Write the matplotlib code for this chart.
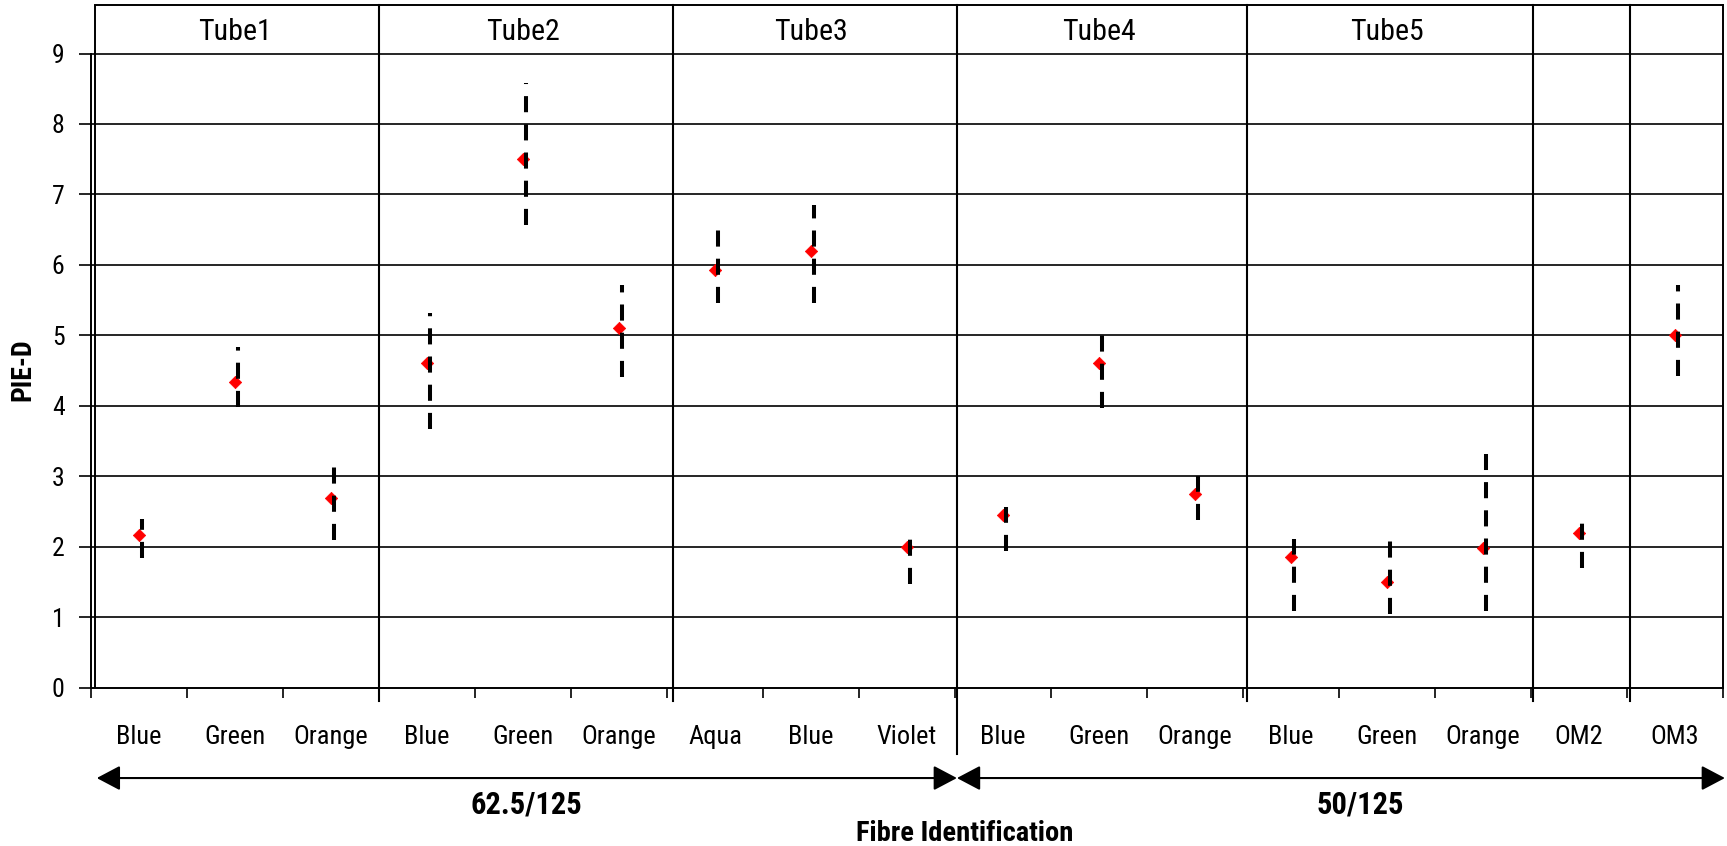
import matplotlib
matplotlib.use("Agg")
import matplotlib.pyplot as plt
import matplotlib.transforms as mtransforms
from matplotlib import font_manager as fm
from matplotlib.ticker import FixedLocator, NullFormatter, FixedFormatter

# ---- pick a condensed sans font if one is installed ----
def pick_font():
    ttf = fm.fontManager.ttflist
    avail = {f.name for f in ttf}
    for p in ['Liberation Sans Narrow', 'Arial Narrow', 'Roboto Condensed',
              'Open Sans Condensed', 'Noto Sans Condensed', 'DejaVu Sans Condensed',
              'Noto Sans Display Condensed']:
        if p in avail:
            return p, 'normal', True
    for fam in ['DejaVu Sans', 'Noto Sans', 'Open Sans', 'Roboto', 'Liberation Sans']:
        for f in ttf:
            if f.name == fam and str(f.stretch) in ('condensed', 'semi-condensed', '500', '600', 'extra-condensed'):
                return fam, 'condensed', True
    return 'Roboto', 'normal', False

FONT, STRETCH, NARROW = pick_font()
plt.rcParams['font.family'] = [FONT, 'DejaVu Sans']
plt.rcParams['font.stretch'] = STRETCH
k = 1.0 if NARROW else 0.86  # size factor if only a normal-width font exists

# ---- data ----
categories = ['Blue', 'Green', 'Orange', 'Blue', 'Green', 'Orange', 'Aqua', 'Blue', 'Violet',
              'Blue', 'Green', 'Orange', 'Blue', 'Green', 'Orange', 'OM2', 'OM3']
pie_d = [2.16, 4.34, 2.69, 4.60, 7.50, 5.11, 5.92, 6.19, 1.99,
         2.45, 4.60, 2.75, 1.85, 1.50, 1.98, 2.19, 5.00]
low = [1.84, 3.98, 2.09, 3.67, 6.56, 4.41, 5.46, 5.46, 1.47,
       1.94, 3.97, 2.38, 1.09, 1.05, 1.09, 1.70, 4.42]
high = [2.39, 4.84, 3.13, 5.31, 8.58, 5.72, 6.50, 6.85, 2.11,
        2.56, 5.00, 3.00, 2.11, 2.08, 3.32, 2.33, 5.71]
tubes = ['Tube1', 'Tube2', 'Tube3', 'Tube4', 'Tube5']
tube_centers = [1, 4, 7, 10, 13]
separators = [2.5, 5.56, 8.52, 11.54, 14.52, 15.53]
fibre_types = ['62.5/125', '50/125']
fibre_spans = [(-0.44, 8.52), (8.52, 16.52)]
fibre_label_x = [4.03, 12.72]
yticks = [0, 1, 2, 3, 4, 5, 6, 7, 8, 9]

# ---- figure ----
W, H = 1727, 846
fig = plt.figure(figsize=(W / 100, H / 100), dpi=100)
ax = fig.add_axes([91 / W, 1 - 687.5 / H, (1723 - 91) / W, (687.5 - 4.7) / H])
n = len(categories)
ax.set_xlim(-0.5, n - 0.5)
ax.set_ylim(0, 9.693)

# gridlines
for yv in yticks[1:]:
    ax.axhline(yv, color='black', lw=1.2, zorder=1)

# spines
for s in ax.spines.values():
    s.set_color('black')
    s.set_linewidth(1.4)
ax.spines['left'].set_bounds(0, 9)
ax.spines['top'].set_bounds(-0.458, n - 0.5)
ax.axvline(-0.458, color='black', lw=1.4, zorder=1)

# separators
for sx in separators:
    ymin = -0.097 if abs(sx - 8.52) < 0.05 else -0.02
    ax.plot([sx, sx], [ymin, 1], color='black', lw=1.5,
            transform=ax.get_xaxis_transform(), clip_on=False, zorder=2)

# ticks
ax.yaxis.set_major_locator(FixedLocator(yticks))
ax.set_yticklabels([str(v) for v in yticks])
ax.tick_params(axis='y', direction='out', length=8.6, width=1.2, pad=10.5,
               labelsize=18.5 * k, colors='black')
ax.xaxis.set_major_locator(FixedLocator([i - 0.5 for i in range(n + 1)]))
ax.xaxis.set_major_formatter(NullFormatter())
ax.xaxis.set_minor_locator(FixedLocator(list(range(n))))
ax.xaxis.set_minor_formatter(FixedFormatter(categories))
ax.tick_params(axis='x', which='major', direction='out', length=7.2, width=1.2)
ax.tick_params(axis='x', which='minor', length=0, pad=27, labelsize=19 * k)

# error bars (dashed), drawn slightly right of the points
xs = list(range(n))
off = mtransforms.offset_copy(ax.transData, fig=fig, x=3, y=0, units='dots')
ax.scatter(xs, pie_d, marker='D', s=6.3 ** 2, color='#ff0000', edgecolors='#ff0000',
           linewidths=0.5, zorder=4)
for x, lo, hi in zip(xs, low, high):
    ax.plot([x, x], [lo, hi], color='black', lw=2.9, linestyle=(0, (4, 3)),
            solid_capstyle='butt', dash_capstyle='butt', transform=off, zorder=5)

# tube labels
for t, c in zip(tubes, tube_centers):
    ax.text(c, 9.30, t, ha='center', va='center', fontsize=21.5 * k, color='black')

# fibre type arrows
ya = -0.1326
bt = ax.get_xaxis_transform()
for (x0, x1), lab, lx in zip(fibre_spans, fibre_types, fibre_label_x):
    ax.annotate('', xy=(x1, ya), xytext=(x0, ya), xycoords=bt, textcoords=bt,
                arrowprops=dict(arrowstyle='<|-|>,head_length=1.44,head_width=0.76',
                                mutation_scale=10, lw=1.5, color='black',
                                shrinkA=0, shrinkB=0),
                annotation_clip=False)
    ax.text(lx, -0.172, lab, transform=bt, ha='center', va='center',
            fontsize=22 * k, fontweight='bold', color='black')

ax.set_xlabel('Fibre Identification', fontsize=20.5 * k, fontweight='bold', va='center')
ax.xaxis.set_label_coords((964.5 - 91) / 1632, (687.5 - 833) / 682.5)
ax.set_ylabel('PIE-D', fontsize=20 * k, fontweight='bold', va='center')
ax.yaxis.set_label_coords((23 - 91) / 1632, (687.5 - 370) / 682.5)

fig.savefig('out.png', dpi=100)
